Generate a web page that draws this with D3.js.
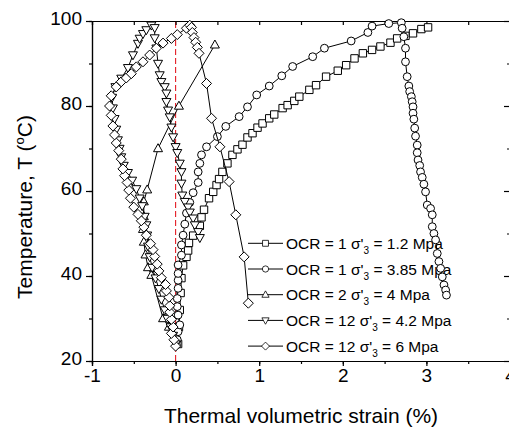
<!DOCTYPE html>
<html>
<head>
<meta charset="utf-8">
<script src="https://cdn.jsdelivr.net/npm/d3@7"></script>
<style>
    body { margin: 0; background: #fff; }
    svg { display: block; font-family: "Liberation Sans", Arial, sans-serif; }
</style>
</head>
<body>
<div id="chart"></div>
<script>
// [strain %, temperature °C]
const ocr1_12 = [[0.03,24],[0.04,28],[0.05,32],[0.06,36],[0.07,39.5],[0.09,42.5],[0.13,44.5],[0.15,46],[0.16,47.8],
    [0.21,49.5],[0.29,51.8],[0.31,53.8],[0.34,55.6],[0.4,58.3],[0.45,59.8],[0.49,61.4],[0.52,62.8],[0.56,64.5],
    [0.62,66.5],[0.68,68.5],[0.74,69.8],[0.8,70.9],[0.86,72.6],[0.92,73.6],[0.98,74.9],[1.04,75.9],[1.12,77.1],
    [1.18,78],[1.28,79.5],[1.34,80.2],[1.42,81.2],[1.48,82.2],[1.6,83.8],[1.68,84.9],[1.8,86.9],[1.94,88.3],
    [2.04,89.6],[2.14,91.2],[2.24,92.4],[2.35,93.2],[2.45,94],[2.57,94.9],[2.65,95.9],[2.75,96.5],[2.84,97.1],
    [2.94,98.1],[3.02,98.5]];
const ocr1_385 = [[0.01,23.8],[0.02,25],[0.03,26.9],[0.05,28.5],[0.03,30.8],[0.02,32.8],[0.02,34.7],[0.03,37.1],
    [0.03,39],[0.03,40.6],[0.03,42.6],[0.07,44.9],[0.07,47.3],[0.09,49.6],[0.11,52.2],[0.13,54.8],[0.17,57.3],
    [0.21,59.6],[0.27,62],[0.27,64.5],[0.29,66.5],[0.31,68.5],[0.37,70.4],[0.5,72.8],[0.6,75.2],[0.76,77.5],
    [0.86,79.8],[0.97,82.6],[1.12,84.7],[1.27,87.1],[1.4,89.3],[1.64,91.6],[1.78,93.6],[2.1,95.3],[2.3,97.3],
    [2.35,98.8],[2.55,99.4],[2.7,99.6],[2.71,98.3],[2.73,96.3],[2.75,93.6],[2.75,90.4],[2.77,86.9],[2.79,84.7],
    [2.8,83.4],[2.82,82.2],[2.83,81],[2.84,79.8],[2.84,78.3],[2.85,76.9],[2.86,74.8],[2.87,72.9],[2.89,70.8],
    [2.89,69],[2.9,67.3],[2.92,66],[2.93,64.5],[2.95,63.2],[2.97,61.6],[2.99,59.8],[3.01,56.7],[3.05,55.9],
    [3.07,54.4],[3.07,51.6],[3.09,50],[3.11,48.5],[3.13,45.3],[3.15,43.4],[3.17,41.8],[3.19,39.8],[3.21,37.9],
    [3.23,36.7],[3.24,35.5]];
const ocr2_4 = [[-0.08,28],[-0.15,30],[-0.29,40.2],[-0.33,42],[-0.36,45],[-0.38,48],[-0.39,51],[-0.38,54],
    [-0.38,57.5],[-0.34,60.3],[-0.21,70],[0.04,80],[0.47,94.4]];
const ocr12_42 = [[0,24],[-0.03,26],[-0.06,28],[-0.1,30],[-0.13,32],[-0.17,34.5],[-0.2,37],[-0.24,39.5],
    [-0.28,42],[-0.31,44.5],[-0.33,47],[-0.34,49.6],[-0.35,52],[-0.37,54],[-0.4,56.5],[-0.43,58.3],[-0.47,60.5],
    [-0.52,62.5],[-0.57,64.3],[-0.62,66],[-0.65,68],[-0.67,70],[-0.69,72],[-0.71,74.5],[-0.73,77],[-0.75,79.5],
    [-0.76,82],[-0.72,84.5],[-0.65,86.5],[-0.57,89],[-0.51,92],[-0.45,94.7],[-0.43,95.9],[-0.39,97],[-0.35,97.9],
    [-0.29,99],[-0.25,98.4],[-0.25,96],[-0.23,93.6],[-0.21,90],[-0.19,87.3],[-0.17,85.7],[-0.13,84.5],[-0.11,83],
    [-0.11,81],[-0.09,79],[-0.07,77.4],[-0.05,75],[-0.03,72.7],[0,70.4],[0.02,69],[0.05,66.5],[0.07,64.5],
    [0.07,61.8],[0.08,59],[0.11,57.5],[0.15,56.2],[0.17,55],[0.21,53.6],[0.23,52],[0.27,50.4],[0.29,49]];
const ocr12_6 = [[0,23.5],[-0.02,25],[-0.05,26.5],[-0.03,28],[-0.05,29.8],[-0.07,31.5],[-0.07,33],[-0.08,35],
    [-0.11,36.5],[-0.12,38],[-0.17,39.6],[-0.2,41.2],[-0.22,42.8],[-0.25,44.6],[-0.27,46.2],[-0.3,47.6],
    [-0.35,49.6],[-0.38,51.5],[-0.41,53],[-0.45,54.5],[-0.5,56.2],[-0.54,58.3],[-0.56,60.2],[-0.58,62],
    [-0.61,63.6],[-0.63,65.2],[-0.65,67.5],[-0.68,69.5],[-0.71,71.3],[-0.73,73.2],[-0.75,75.3],[-0.77,77.8],
    [-0.79,80],[-0.77,82.4],[-0.71,84.5],[-0.65,85.7],[-0.59,86.6],[-0.53,87.6],[-0.47,89.2],[-0.39,90.4],
    [-0.31,92],[-0.23,93.6],[-0.15,94.8],[-0.05,95.9],[0.02,96.8],[0.13,98.3],[0.17,99],[0.19,98.5],[0.2,97.3],
    [0.22,96.1],[0.24,95],[0.26,93.8],[0.28,92.4],[0.37,85.3],[0.43,77.1],[0.53,70.4],[0.64,62.2],[0.72,54.4],
    [0.82,44.5],[0.87,33.6]];

const series = [
    {label: ['OCR = 1 σ\'', '3', ' = 1.2 Mpa'], data: ocr1_12, symbol: 'square'},
    {label: ['OCR = 1 σ\'', '3', ' = 3.85 Mpa'], data: ocr1_385, symbol: 'circle'},
    {label: ['OCR = 2 σ\'', '3', ' = 4 Mpa'], data: ocr2_4, symbol: 'up'},
    {label: ['OCR = 12 σ\'', '3', ' = 4.2 Mpa'], data: ocr12_42, symbol: 'down'},
    {label: ['OCR = 12 σ\'', '3', ' = 6 Mpa'], data: ocr12_6, symbol: 'diamond'}
];
const xTicks = [-1, 0, 1, 2, 3, 4];
const yTicks = [20, 40, 60, 80, 100];

const W = 509, H = 428;
const x = d3.scaleLinear().domain([-1, 4]).range([92, 510]);
const y = d3.scaleLinear().domain([20, 100]).range([361, 21]);

const svg = d3.select('#chart').append('svg')
    .attr('width', W).attr('height', H);

function symbolPath(type) {
    if (type === 'square') return 'M-3.7,-3.7H3.7V3.7H-3.7Z';
    if (type === 'circle') return d3.symbol(d3.symbolCircle, 48)();
    if (type === 'up') return 'M0,-4.8L4.5,3.2L-4.5,3.2Z';
    if (type === 'down') return 'M0,4.8L4.5,-3.2L-4.5,-3.2Z';
    return 'M0,-5L5,0L0,5L-5,0Z';
}

// zero line
svg.append('line')
    .attr('x1', x(0)).attr('x2', x(0))
    .attr('y1', y(20)).attr('y2', y(100))
    .attr('stroke', '#e41e26').attr('stroke-width', 1.1)
    .attr('stroke-dasharray', '6,3');

// axes
const minorX = d3.range(-1, 4.01, 0.5);
const minorY = d3.range(20, 100.1, 10);
const fmt = d => String(d);

svg.append('g')
    .attr('transform', 'translate(0,' + y(20) + ')')
    .call(d3.axisBottom(x).tickValues(minorX).tickSize(3).tickFormat(''));
svg.append('g')
    .attr('transform', 'translate(0,' + y(20) + ')')
    .call(d3.axisBottom(x).tickValues(xTicks).tickSize(5).tickPadding(3).tickFormat(fmt))
    .call(g => g.selectAll('text').attr('font-size', 19).attr('fill', '#000'));

svg.append('g')
    .attr('transform', 'translate(' + x(-1) + ',0)')
    .call(d3.axisLeft(y).tickValues(minorY).tickSize(3).tickFormat(''));
svg.append('g')
    .attr('transform', 'translate(' + x(-1) + ',0)')
    .call(d3.axisLeft(y).tickValues(yTicks).tickSize(6).tickPadding(4).tickFormat(fmt))
    .call(g => g.selectAll('text').attr('font-size', 19).attr('fill', '#000').attr('dy', '0.18em'));

// top and right: inward ticks
svg.append('g')
    .attr('transform', 'translate(0,' + y(100) + ')')
    .call(d3.axisBottom(x).tickValues(minorX).tickSize(4).tickFormat(''));
svg.append('g')
    .attr('transform', 'translate(0,' + y(100) + ')')
    .call(d3.axisTop(x).tickValues([]).tickSizeOuter(0));
svg.append('g')
    .attr('transform', 'translate(' + x(4) + ',0)')
    .call(d3.axisLeft(y).tickValues(minorY).tickSize(3).tickFormat(''));
svg.append('g')
    .attr('transform', 'translate(' + x(4) + ',0)')
    .call(d3.axisLeft(y).tickValues(yTicks).tickSize(6).tickFormat(''));

svg.selectAll('.domain, .tick line').attr('stroke', '#000').attr('stroke-width', 1.2);

// axis titles
svg.append('text')
    .attr('x', 301).attr('y', 423)
    .attr('text-anchor', 'middle').attr('font-size', 21)
    .text('Thermal volumetric strain (%)');

const yt = svg.append('text')
    .attr('transform', 'translate(32,207) rotate(-90)')
    .attr('text-anchor', 'middle').attr('font-size', 21);
yt.append('tspan').text('Temperature, T (');
yt.append('tspan').attr('font-size', 13).attr('dy', -8).text('o');
yt.append('tspan').attr('dy', 8).text('C)');

// legend
const legend = svg.append('g');
series.forEach((s, i) => {
    const ly = 243.3 + i * 25.7;
    legend.append('line')
        .attr('x1', 248).attr('x2', 283).attr('y1', ly).attr('y2', ly)
        .attr('stroke', '#000').attr('stroke-width', 1);
    legend.append('path')
        .attr('d', symbolPath(s.symbol))
        .attr('transform', 'translate(265.5,' + ly + ') scale(0.8)')
        .attr('fill', '#fff').attr('stroke', '#000').attr('stroke-width', 1);
    const t = legend.append('text')
        .attr('x', 286).attr('y', ly + 5.5).attr('font-size', 15.5);
    t.append('tspan').text(s.label[0]);
    t.append('tspan').attr('font-size', 10).attr('dy', 5).text(s.label[1]);
    t.append('tspan').attr('dy', -5).text(s.label[2]);
});

// series
const line = d3.line().x(d => x(d[0])).y(d => y(d[1]));
series.forEach(s => {
    const g = svg.append('g');
    g.append('path')
        .attr('d', line(s.data))
        .attr('fill', 'none').attr('stroke', '#000').attr('stroke-width', 1);
    g.selectAll('path.pt')
        .data(s.data)
        .enter().append('path')
        .attr('class', 'pt')
        .attr('d', symbolPath(s.symbol))
        .attr('transform', d => 'translate(' + x(d[0]) + ',' + y(d[1]) + ')')
        .attr('fill', '#fff').attr('stroke', '#000').attr('stroke-width', 1);
});
</script>
</body>
</html>
